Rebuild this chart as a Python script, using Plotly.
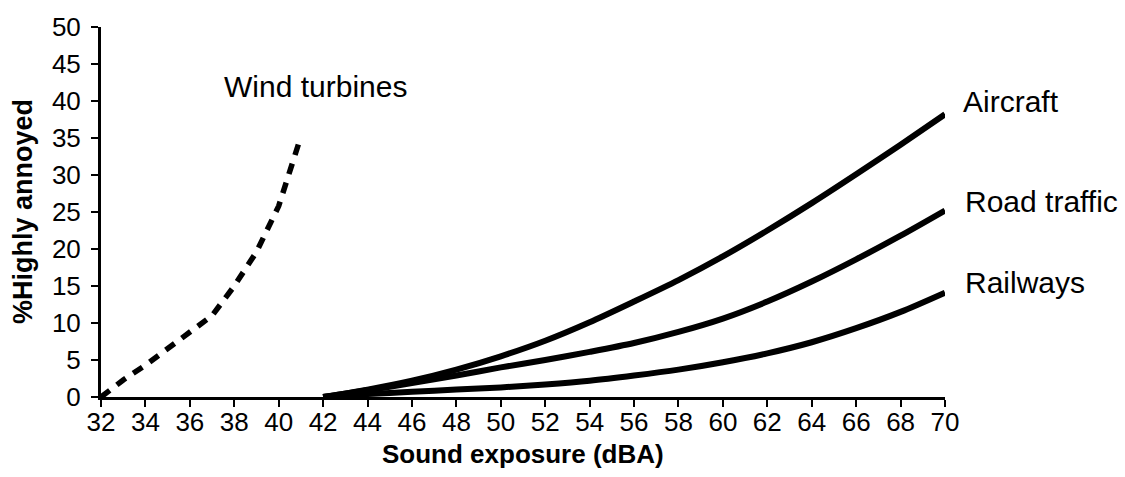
import plotly.graph_objects as go

# Sound exposure (dBA) and % highly annoyed
wind_x = [32, 33, 34, 35, 36, 37, 38, 39, 40, 41]
wind_y = [0, 2.3, 4.3, 6.5, 8.7, 11.0, 15.0, 19.6, 25.8, 35.2]

curve_x = [42, 44, 46, 48, 50, 52, 54, 56, 58, 60, 62, 64, 66, 68, 70]
aircraft_y = [0, 1.0, 2.2, 3.7, 5.5, 7.6, 10.1, 12.9, 15.8, 19.0, 22.5, 26.2, 30.1, 34.1, 38.2]
road_y = [0, 0.9, 1.9, 2.9, 4.0, 5.0, 6.1, 7.3, 8.8, 10.6, 12.9, 15.6, 18.6, 21.8, 25.2]
rail_y = [0, 0.4, 0.7, 1.0, 1.3, 1.7, 2.2, 2.9, 3.7, 4.7, 5.9, 7.4, 9.3, 11.5, 14.1]

x_ticks = list(range(32, 71, 2))
y_ticks = list(range(0, 51, 5))
X_RANGE = [32, 70]
Y_RANGE = [0, 50]

labels = ["Wind turbines", "Aircraft", "Road traffic", "Railways"]
label_x = [41.67, 70.7, 70.8, 70.8]
label_y = [42.0, 39.9, 26.4, 15.5]

FONT = "Liberation Sans, Arial, sans-serif"


def px(x):
    return (x - X_RANGE[0]) / (X_RANGE[1] - X_RANGE[0])


def py(y):
    return (y - Y_RANGE[0]) / (Y_RANGE[1] - Y_RANGE[0])


fig = go.Figure()
fig.add_trace(go.Scatter(x=wind_x, y=wind_y, mode="lines",
                         line=dict(color="black", width=5.5, dash="11px,9px"),
                         showlegend=False))
for ys in (aircraft_y, road_y, rail_y):
    fig.add_trace(go.Scatter(x=curve_x, y=ys, mode="lines",
                             line=dict(color="black", width=6, shape="spline", smoothing=0.8),
                             showlegend=False))

for i, t in enumerate(labels):
    fig.add_annotation(x=px(label_x[i]), y=py(label_y[i]), xref="paper", yref="paper",
                       text=t, showarrow=False,
                       xanchor="center" if i == 0 else "left", yanchor="middle",
                       font=dict(family=FONT, size=30, color="black"))

# axis titles
fig.add_annotation(x=0.5, y=-0.155, xref="paper", yref="paper",
                   text="<b>Sound exposure (dBA)</b>", showarrow=False,
                   xanchor="center", yanchor="middle",
                   font=dict(family=FONT, size=26, color="black"))
fig.add_annotation(x=-0.0924, y=0.5, xref="paper", yref="paper",
                   text="<b>%Highly annoyed</b>", showarrow=False, textangle=-90,
                   xanchor="center", yanchor="middle",
                   font=dict(family=FONT, size=27, color="black"))

fig.update_layout(
    width=1125, height=477,
    margin=dict(l=101, r=180, t=22, b=80),
    paper_bgcolor="white", plot_bgcolor="white",
    font=dict(family=FONT, color="black"),
    xaxis=dict(range=X_RANGE, tickvals=x_ticks, ticktext=[str(v) for v in x_ticks],
               showgrid=False, zeroline=False, showline=True, linecolor="black",
               linewidth=3, ticks="outside", ticklen=7, tickwidth=2, tickcolor="black",
               ticklabelstandoff=-7,
               tickfont=dict(family=FONT, size=26, color="black")),
    yaxis=dict(range=Y_RANGE, tickvals=y_ticks,
               showgrid=False, zeroline=False, showline=True, linecolor="black",
               linewidth=3, ticks="outside", ticklen=7, tickwidth=2, tickcolor="black",
               ticklabelstandoff=5,
               tickfont=dict(family=FONT, size=26, color="black")),
)

fig.write_html("out.html", config={"displayModeBar": False},
               post_script="document.body.style.margin='0px';")
